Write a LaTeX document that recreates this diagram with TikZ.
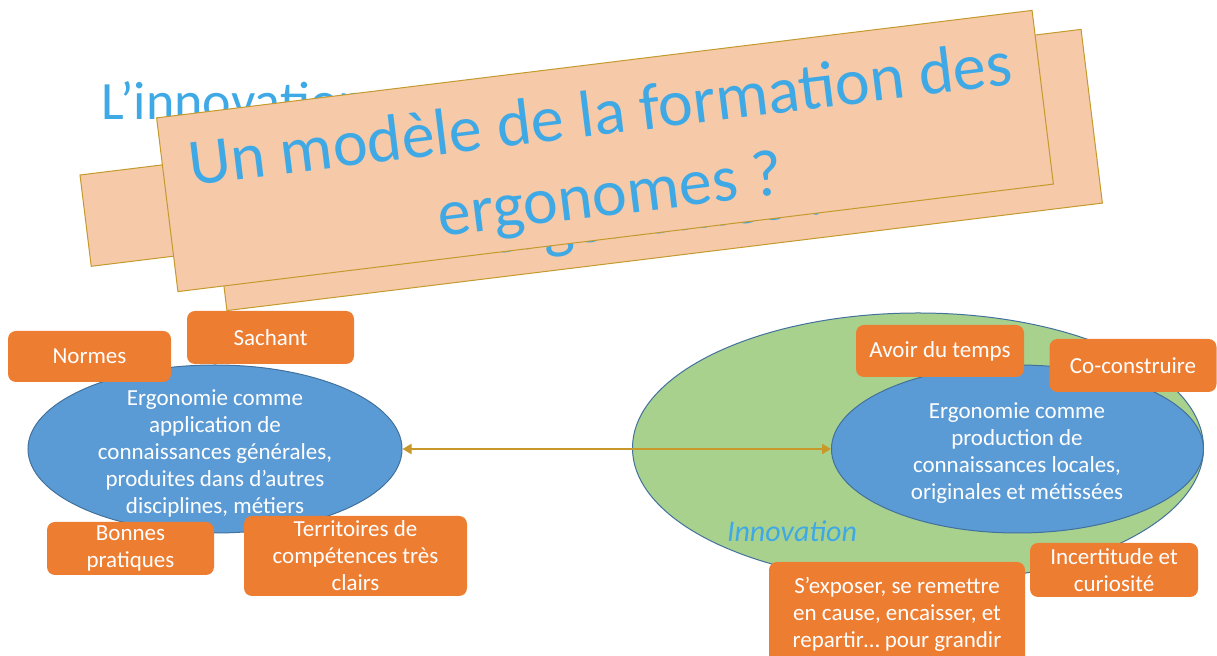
\documentclass[tikz,border=0pt]{standalone}
\usepackage{fontspec}
\setmainfont{Carlito}
\usetikzlibrary{shapes.geometric,arrows.meta}

\definecolor{boxorange}{HTML}{ED7D31}
\definecolor{ellblue}{HTML}{5B9BD5}
\definecolor{elledge}{HTML}{41719C}
\definecolor{innogreen}{HTML}{A9D18E}
\definecolor{titleblue}{HTML}{3FA9E5}
\definecolor{peach}{HTML}{F6C9A9}
\definecolor{peachedge}{HTML}{C49A2C}
\definecolor{linkgold}{HTML}{C8982A}

\tikzset{
  tag/.style={fill=boxorange, rounded corners=4pt, text=white, align=center,
    inner sep=0pt, font=\fontsize{11.5}{13.5}\selectfont},
  bubble/.style={ellipse, draw=elledge, line width=0.5pt, fill=ellblue, inner sep=0pt},
  bubtext/.style={text=white, align=center, inner sep=0pt, font=\fontsize{11.5}{13.5}\selectfont},
  banner/.style={draw=peachedge, line width=0.5pt, fill=peach, inner sep=0pt},
  bantext/.style={text=titleblue, align=center, inner sep=0pt, font=\fontsize{33}{40.5}\selectfont},
  link/.style={draw=linkgold, line width=1.4pt,
    arrows={Triangle[length=4.5pt,width=5pt]-Triangle[length=4.5pt,width=5pt]}},
}

\begin{document}
\begin{tikzpicture}[x=0.5pt,y=-0.5pt]
  \useasboundingbox (0,0) rectangle (1217,656);

  % slide title, mostly hidden
  \node[anchor=base west, inner sep=0pt, text=titleblue, font=\fontsize{27}{32}\selectfont] (slidetitle) at (101,120) {L’innovation};

  % title banners
  \node[banner, rotate=7, minimum width=350pt, minimum height=46pt] (oldbanner) at (433,178) {};
  \begin{scope}[shift={(654,170)}, rotate=7, transform shape]
    \node[banner, minimum width=441pt, minimum height=87.5pt] (backbanner) at (0,0) {};
    \node[bantext, anchor=base] (backquestion) at (0,64) {ergonomes ?};
  \end{scope}
  \begin{scope}[shift={(605,151)}, rotate=7, transform shape]
    \node[banner, minimum width=441pt, minimum height=87.5pt] (frontbanner) at (0,0) {};
    \node[bantext] (question) at (0,7) {Un modèle de la formation des\\ergonomes ?};
  \end{scope}

  % left: application
  \node[bubble, minimum width=187pt, minimum height=84pt] (appli) at (215,449) {};
  \node[bubtext] (applitext) at (215,453) {Ergonomie comme\\application de\\connaissances générales,\\produites dans d’autres\\disciplines, métiers};
  \node[tag, minimum width=81.5pt, minimum height=25.5pt] (normes) at (89.5,356.5) {Normes};
  \node[tag, minimum width=83.5pt, minimum height=26.5pt] (sachant) at (270.5,337.5) {Sachant};
  \node[tag, minimum width=83.5pt, minimum height=26.5pt] (bonnes) at (130.5,548.5) {Bonnes\\pratiques};
  \node[tag, minimum width=111.5pt, minimum height=40pt] (territoires) at (355.5,556) {Territoires de\\compétences très\\clairs};

  % right: production inside innovation
  \node[ellipse, draw=elledge, line width=0.5pt, fill=innogreen, inner sep=0pt,
    minimum width=285.5pt, minimum height=135pt] (innov) at (918,448) {};
  \node[bubble, minimum width=186pt, minimum height=84pt] (prod) at (1017.5,449) {};
  \node[bubtext] (prodtext) at (1017,453) {Ergonomie comme\\production de\\connaissances locales,\\originales et métissées};
  \node[anchor=base, inner sep=0pt, text=titleblue, font=\itshape\fontsize{15}{18}\selectfont] (innovlabel) at (792,542) {Innovation};
  \node[tag, minimum width=84pt, minimum height=26pt] (temps) at (940,351) {Avoir du temps};
  \node[tag, minimum width=83.5pt, minimum height=26.5pt] (coconst) at (1133,365.5) {Co-construire};
  \node[tag, minimum width=84pt, minimum height=27pt] (incert) at (1114,570) {Incertitude et\\curiosité};
  \node[tag, minimum width=128pt, minimum height=52pt] (exposer) at (897,614) {S’exposer, se remettre\\en cause, encaisser, et\\repartir… pour grandir};

  \draw[link] (appli) -- (prod);
\end{tikzpicture}
\end{document}
